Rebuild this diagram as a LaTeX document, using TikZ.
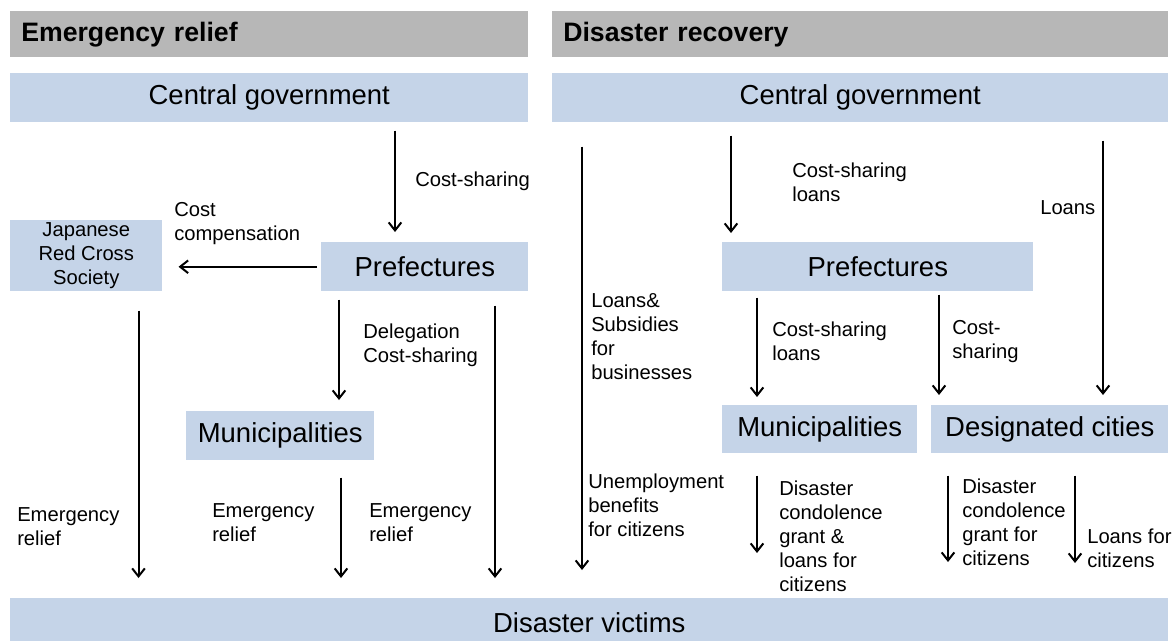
\documentclass[tikz,border=0pt]{standalone}
\usepackage{fontspec}
\setmainfont{Liberation Sans}
\usetikzlibrary{arrows.meta}
\definecolor{hdrgray}{RGB}{183,183,183}
\definecolor{boxblue}{RGB}{197,212,232}
\tikzset{
  hdr/.style={fill=hdrgray, anchor=north west, inner xsep=8.25pt, inner ysep=0pt,
    minimum height=34.5pt, align=left, font=\bfseries\fontsize{20}{24}\selectfont},
  bluebox/.style={fill=boxblue, anchor=north west, inner sep=0pt, align=center,
    minimum height=36.75pt, font=\fontsize{20.6}{24}\selectfont},
  smallbox/.style={bluebox, font=\fontsize{15.15}{18}\selectfont},
  lbl/.style={anchor=west, inner sep=0pt, align=left, font=\fontsize{15.15}{18}\selectfont},
  arr/.style={draw, line width=1.5pt, -{Straight Barb[length=6pt,width=9.5pt]}}
}
\begin{document}
\begin{tikzpicture}[x=0.75pt,y=-0.75pt]
\useasboundingbox (0,0) rectangle (1173,640);
\clip (0,0) rectangle (1173,640);

% headers
\node[hdr, text width=372pt] (hdrL) at (10,11) {Emergency relief};
\node[hdr, text width=445.5pt] (hdrR) at (552,11) {Disaster recovery};

% boxes
\node[bluebox, minimum width=388.5pt] (cgL) at (10,73) {Central government};
\node[bluebox, minimum width=462pt] (cgR) at (552,73) {Central government};
\node[smallbox, minimum width=114pt, minimum height=53.25pt] (jrc) at (10,220) {Japanese\\Red Cross\\Society};
\node[bluebox, minimum width=155.25pt] (prL) at (321,242) {Prefectures};
\node[bluebox, minimum width=141pt] (muL) at (186,411) {Municipalities};
\node[bluebox, minimum width=233.25pt] (prR) at (722,242) {Prefectures};
\node[bluebox, minimum width=146.25pt, minimum height=36pt] (muR) at (722,405) {Municipalities};
\node[bluebox, minimum width=177.75pt, minimum height=36pt] (dc) at (931,405) {Designated cities};
\node[bluebox, minimum width=868.5pt] (dv) at (10,598) {Disaster victims};

% columns
\coordinate (xa) at (395,0);
\coordinate (xb) at (339,0);
\coordinate (xc) at (138.5,0);
\coordinate (xd) at (341,0);
\coordinate (xe) at (495,0);
\coordinate (xf) at (582,0);
\coordinate (xg) at (731,0);
\coordinate (xh) at (1103,0);
\coordinate (xi) at (757,0);
\coordinate (xj) at (939,0);
\coordinate (xk) at (948,0);
\coordinate (xl) at (1075,0);

% left panel arrows
\draw[arr, shorten <=6pt, shorten >=7.5pt] (cgL.south -| xa) -- (prL.north -| xa);
\draw[arr, shorten <=3pt, shorten >=12pt] (prL.west) -- (jrc.east |- prL.west);
\draw[arr, shorten <=6pt, shorten >=8.25pt] (prL.south -| xb) -- (muL.north -| xb);
\draw[arr, shorten <=14.25pt, shorten >=15pt] (jrc.south -| xc) -- (dv.north -| xc);
\draw[arr, shorten <=12.75pt, shorten >=15pt] (muL.south -| xd) -- (dv.north -| xd);
\draw[arr, shorten <=10.5pt, shorten >=15pt] (prL.south -| xe) -- (dv.north -| xe);

% right panel arrows
\draw[arr, shorten <=18pt, shorten >=21pt] (cgR.south -| xf) -- (dv.north -| xf);
\draw[arr, shorten <=9.75pt, shorten >=6.75pt] (cgR.south -| xg) -- (prR.north -| xg);
\draw[arr, shorten <=13.5pt, shorten >=7.5pt] (cgR.south -| xh) -- (dc.north -| xh);
\draw[arr, shorten <=4.5pt, shorten >=6pt] (prR.south -| xi) -- (muR.north -| xi);
\draw[arr, shorten <=2.25pt, shorten >=7.5pt] (prR.south -| xj) -- (dc.north -| xj);
\draw[arr, shorten <=16.5pt, shorten >=33.75pt] (muR.south -| xi) -- (dv.north -| xi);
\draw[arr, shorten <=16.5pt, shorten >=27pt] (dc.south -| xk) -- (dv.north -| xk);
\draw[arr, shorten <=16.5pt, shorten >=26.25pt] (dc.south -| xl) -- (dv.north -| xl);

% labels
\node[lbl] (l1) at (415,181) {Cost-sharing};
\node[lbl] (l2) at (174,223.5) {Cost\\compensation};
\node[lbl] (l3) at (363,345.5) {Delegation\\Cost-sharing};
\node[lbl] (l4) at (17,526.5) {Emergency\\relief};
\node[lbl] (l5) at (212,523) {Emergency\\relief};
\node[lbl] (l6) at (369,523) {Emergency\\relief};
\node[lbl] (l7) at (591,336.5) {Loans\&\\Subsidies\\for\\businesses};
\node[lbl] (l8) at (588,505) {Unemployment\\benefits\\for citizens};
\node[lbl] (l9) at (792,182.5) {Cost-sharing\\loans};
\node[lbl] (l10) at (1040,208) {Loans};
\node[lbl] (l11) at (772,341.5) {Cost-sharing\\loans};
\node[lbl] (l12) at (952,341.5) {Cost-\\sharing};
\node[lbl] (l13) at (779,536) {Disaster\\condolence\\grant \&\\loans for\\citizens};
\node[lbl] (l14) at (962,522) {Disaster\\condolence\\grant for\\citizens};
\node[lbl] (l15) at (1087,548) {Loans for\\citizens};
\end{tikzpicture}
\end{document}
